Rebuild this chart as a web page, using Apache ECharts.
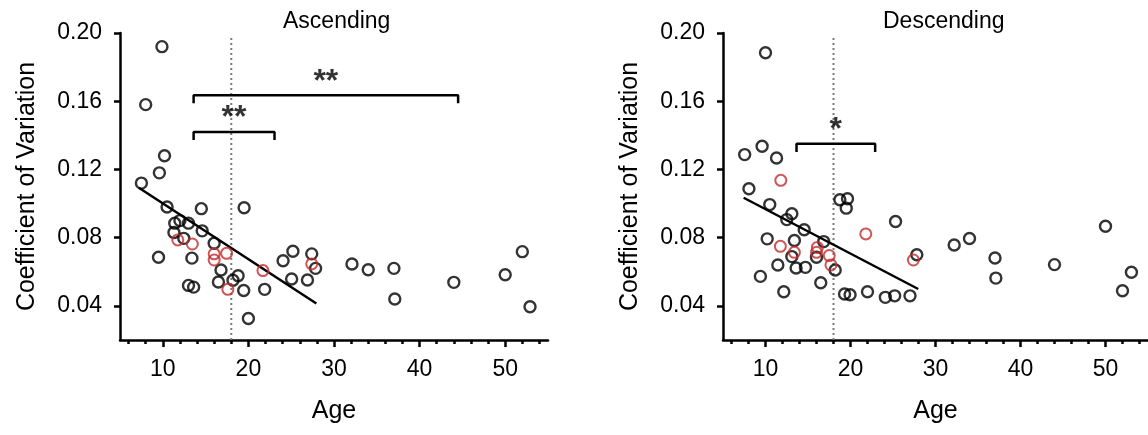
<!DOCTYPE html>
<html>
<head>
<meta charset="utf-8">
<script src="https://cdn.jsdelivr.net/npm/echarts@6/dist/echarts.min.js"></script>
<style>html,body{margin:0;padding:0;background:#fff}#c{width:1148px;height:435px}</style>
</head>
<body>
<div id="c"></div>
<script>
// ---- data ----
const panelTitles = ['Ascending', 'Descending'];
const xMinorTicks = [6,8,10,12,14,16,18,20,22,24,26,28,30,32,34,36,38,40,42,44,46,48,50,52,54];
const xMajorTicks = [10,20,30,40,50];
const yTicks = [0.04,0.08,0.12,0.16,0.20];
const cutoffAge = 18;

const ascendingBlack = [[7.5,0.112],[8.0,0.158],[9.9,0.192],[9.6,0.118],[10.2,0.128],[10.5,0.098],[9.5,0.0685],[14.5,0.097],[19.5,0.0975],[11.4,0.0885],[12.0,0.090],[13.0,0.0885],[11.3,0.083],[14.6,0.084],[12.45,0.0796],[16.0,0.0767],[13.4,0.068],[16.8,0.061],[13.0,0.052],[13.6,0.051],[16.5,0.054],[18.2,0.055],[18.8,0.0577],[19.45,0.049],[21.9,0.0497],[20.0,0.0326],[24.05,0.0665],[25.2,0.072],[25.05,0.0558],[26.9,0.0552],[27.4,0.0705],[27.85,0.062],[32.1,0.0646],[34.0,0.0612],[37.0,0.062],[37.1,0.044],[44.0,0.0538],[50.0,0.0583],[52.0,0.0718],[52.9,0.0395]];
const ascendingRed = [[11.75,0.0787],[13.45,0.0763],[16.0,0.0705],[16.0,0.0669],[17.45,0.0708],[17.6,0.0497],[21.7,0.0607],[27.4,0.0646]];
const ascendingFit = [[7.2,0.1093],[27.94,0.0414]];
const ascendingBrackets = [{from:13.6,to:44.5,y:0.1635,label:'**'},{from:13.6,to:23.05,y:0.142,label:'**'}];

const descendingBlack = [[10.0,0.1884],[7.55,0.1287],[9.6,0.1336],[11.3,0.1267],[8.05,0.1087],[10.5,0.0994],[13.1,0.094],[12.5,0.0906],[14.55,0.0846],[10.2,0.0793],[13.4,0.0783],[13.1,0.0689],[16.0,0.0685],[16.85,0.0777],[18.2,0.061],[11.45,0.064],[13.6,0.0622],[14.7,0.0626],[9.4,0.0573],[12.15,0.0483],[16.5,0.0536],[18.75,0.1022],[19.65,0.1028],[19.5,0.0973],[25.3,0.0895],[19.3,0.047],[19.95,0.0465],[22.0,0.0483],[24.1,0.045],[25.2,0.0459],[27.0,0.0459],[27.8,0.070],[32.2,0.0757],[34.0,0.0795],[37.0,0.0681],[37.1,0.0563],[44.0,0.0642],[50.0,0.0867],[53.05,0.0597],[52.0,0.0489]];
const descendingRed = [[11.8,0.1136],[11.75,0.0749],[13.4,0.0714],[16.1,0.0743],[16.0,0.0714],[17.5,0.0695],[17.7,0.064],[21.8,0.0822],[27.4,0.0669]];
const descendingFit = [[7.43,0.1034],[27.97,0.0499]];
const descendingBrackets = [{from:13.65,to:22.9,y:0.135,label:'*'}];

// ---- build ----
const FONT = 'Arial, "Liberation Sans", sans-serif';
const AX = 2.5;
const drop = 0.0047;
const grids = [
  {left:120, top:33, width:428, bottom:95},
  {left:723, top:33, width:428.5, bottom:95}
];
const xAxes = [], yAxes = [], series = [];
const panels = [
  {black:ascendingBlack, red:ascendingRed, fit:ascendingFit, brackets:ascendingBrackets},
  {black:descendingBlack, red:descendingRed, fit:descendingFit, brackets:descendingBrackets}
];
panels.forEach((p, i) => {
  xAxes.push({
    type:'value', gridIndex:i, min:5, max:55, position:'bottom',
    name:'Age', nameLocation:'middle', nameGap:59,
    nameTextStyle:{fontFamily:FONT, fontSize:25, color:'#000'},
    axisLine:{lineStyle:{color:'#000', width:AX}},
    axisTick:{customValues:xMinorTicks, length:4, lineStyle:{width:AX, color:'#000'}},
    axisLabel:{show:false},
    splitLine:{show:false}
  });
  xAxes.push({
    type:'value', gridIndex:i, min:5, max:55, position:'bottom',
    axisLine:{show:false},
    axisTick:{customValues:xMajorTicks, length:7, lineStyle:{width:AX, color:'#000'}},
    axisLabel:{customValues:xMajorTicks, margin:18, fontFamily:FONT, fontSize:23, color:'#000'},
    splitLine:{show:false}
  });
  yAxes.push({
    type:'value', gridIndex:i, min:0.02, max:0.20,
    name:'Coefficient of Variation', nameLocation:'middle', nameGap:80,
    nameTextStyle:{fontFamily:FONT, fontSize:25, color:'#000'},
    axisLine:{lineStyle:{color:'#000', width:AX}},
    axisTick:{customValues:yTicks, length:6, lineStyle:{width:AX, color:'#000'}},
    axisLabel:{customValues:yTicks, margin:18, fontFamily:FONT, fontSize:23, color:'#000', formatter:v=>v.toFixed(2)},
    splitLine:{show:false}
  });
  const xi = i*2;
  series.push({
    type:'line', xAxisIndex:xi, yAxisIndex:i, data:[[cutoffAge,0.02],[cutoffAge,0.198]],
    symbol:'none', lineStyle:{color:'#7a7a7a', width:2, type:[2,3]}, silent:true, z:1
  });
  series.push({
    type:'line', xAxisIndex:xi, yAxisIndex:i, data:p.fit, symbol:'none',
    lineStyle:{color:'#000', width:2.5}, z:3
  });
  p.brackets.forEach(b => {
    series.push({
      type:'line', xAxisIndex:xi, yAxisIndex:i,
      data:[[b.from,b.y-drop],[b.from,b.y],[b.to,b.y],[b.to,b.y-drop]],
      symbol:'none', lineStyle:{color:'#000', width:2.5}, z:3
    });
    series.push({
      type:'scatter', xAxisIndex:xi, yAxisIndex:i, symbolSize:1,
      itemStyle:{color:'transparent'},
      data:[[(b.from+b.to)/2, b.y]],
      label:{show:true, formatter:b.label, position:'top', distance:-3,
        fontFamily:FONT, fontSize:32, fontWeight:'bold', color:'#000'}, z:3
    });
  });
  series.push({
    type:'scatter', xAxisIndex:xi, yAxisIndex:i, data:p.black, symbol:'circle', symbolSize:11,
    itemStyle:{color:'transparent', borderColor:'#000', borderWidth:2.4}, z:4
  });
  series.push({
    type:'scatter', xAxisIndex:xi, yAxisIndex:i, data:p.red, symbol:'circle', symbolSize:11,
    itemStyle:{color:'transparent', borderColor:'#c42a2a', borderWidth:2}, z:5
  });
});

const chart = echarts.init(document.getElementById('c'), null, {renderer:'canvas'});
chart.setOption({
  animation:false,
  backgroundColor:'#fff',
  title:[
    {text:panelTitles[0], left:278, top:5, textStyle:{fontFamily:FONT, fontSize:23, fontWeight:'normal', color:'#000'}},
    {text:panelTitles[1], left:878, top:5, textStyle:{fontFamily:FONT, fontSize:23, fontWeight:'normal', color:'#000'}}
  ],
  grid:grids,
  xAxis:xAxes,
  yAxis:yAxes,
  series:series
});
</script>
</body>
</html>
